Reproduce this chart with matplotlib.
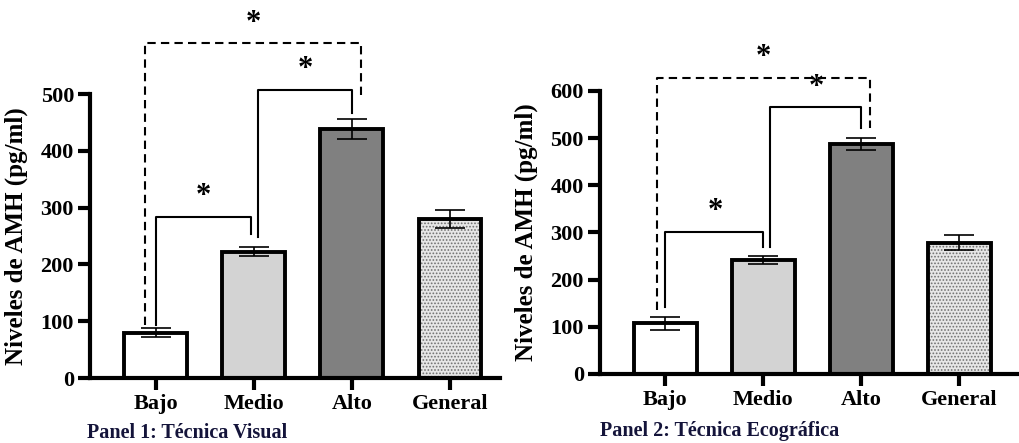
import matplotlib
matplotlib.use("Agg")
import matplotlib.pyplot as plt

plt.rcParams['font.family'] = ['Liberation Serif', 'DejaVu Serif']
plt.rcParams['font.weight'] = 'bold'
plt.rcParams['hatch.linewidth'] = 0.8

# data
categories = ["Bajo", "Medio", "Alto", "General"]
visual_means = [80, 222, 438, 280]
visual_sem = [8, 8, 18, 16]
eco_means = [107, 242, 488, 278]
eco_sem = [14, 8, 13, 16]

bar_colors = ["white", "#d3d3d3", "#808080", "#e6e6e6"]

# significance brackets: (x left, x right, height, left leg bottom, right leg bottom, dashed)
visual_brackets = [
    (0.0, 0.97, 283, 93, 253, False),
    (1.04, 2.0, 508, 248, 466, False),
    (-0.11, 2.09, 590, 93, 489, True),
]
visual_stars = [(0.49, 319), (1.53, 544), (1.0, 625)]

eco_brackets = [
    (0.0, 1.0, 301, 142, 270, False),
    (1.07, 2.0, 566, 270, 521, False),
    (-0.09, 2.09, 627, 136, 521, True),
]
eco_stars = [(0.51, 344), (1.54, 608), (1.0, 670)]


def draw_panel(ax, means, sem, brackets, stars, ymax, xmax, yticks):
    xs = range(len(categories))
    for i in xs:
        if categories[i] == "General":
            ax.bar(i, means[i], width=0.64, color=bar_colors[i], edgecolor="#707070",
                   linewidth=0, hatch=".....", zorder=2)
            ax.bar(i, means[i], width=0.64, color="none", edgecolor="black",
                   linewidth=2.8, zorder=3)
        else:
            ax.bar(i, means[i], width=0.64, color=bar_colors[i], edgecolor="black",
                   linewidth=2.8, zorder=2)
    ax.errorbar(list(xs), means, yerr=sem, fmt="none", ecolor="black",
                elinewidth=1.2, capsize=11, capthick=1.2, zorder=4)

    for x1, x2, h, b1, b2, dashed in brackets:
        ls = (0, (4, 2.5)) if dashed else "-"
        ax.plot([x1, x1, x2, x2], [b1, h, h, b2], color="black", lw=1.5,
                linestyle=ls, clip_on=False, zorder=5)
    for sx, sy in stars:
        ax.text(sx, sy, "*", ha="center", va="center", fontsize=22,
                fontweight="bold", clip_on=False)

    ax.set_xlim(-0.67, xmax)
    ax.set_ylim(0, ymax)
    ax.set_yticks(yticks)
    ax.set_xticks(list(xs))
    ax.set_xticklabels(categories)
    for s in ["top", "right"]:
        ax.spines[s].set_visible(False)
    for s in ["left", "bottom"]:
        ax.spines[s].set_linewidth(3)
    ax.tick_params(axis="both", width=3, length=8.5, labelsize=16, pad=3)
    ax.set_ylabel("Niveles de AMH (pg/ml)", fontsize=18, fontweight="bold")


fig = plt.figure(figsize=(10.2, 4.43), dpi=100)
ax1 = fig.add_axes([0.0882, 0.1467, 0.402, 0.641])
ax2 = fig.add_axes([0.588, 0.1558, 0.412, 0.639])

draw_panel(ax1, visual_means, visual_sem, visual_brackets, visual_stars,
           500, 3.51, [0, 100, 200, 300, 400, 500])
draw_panel(ax2, eco_means, eco_sem, eco_brackets, eco_stars,
           600, 3.62, [0, 100, 200, 300, 400, 500, 600])
ax1.yaxis.set_label_coords(-0.15, 0.5)
ax2.yaxis.set_label_coords(-0.148, 0.5)

fig.text(87 / 1020, 5 / 443, "Panel 1: Técnica Visual", fontsize=14.5,
         fontweight="bold", color="#14143a", va="baseline")
fig.text(600 / 1020, 7 / 443, "Panel 2: Técnica Ecográfica", fontsize=14.5,
         fontweight="bold", color="#14143a", va="baseline")

fig.savefig("out.png", dpi=100)
